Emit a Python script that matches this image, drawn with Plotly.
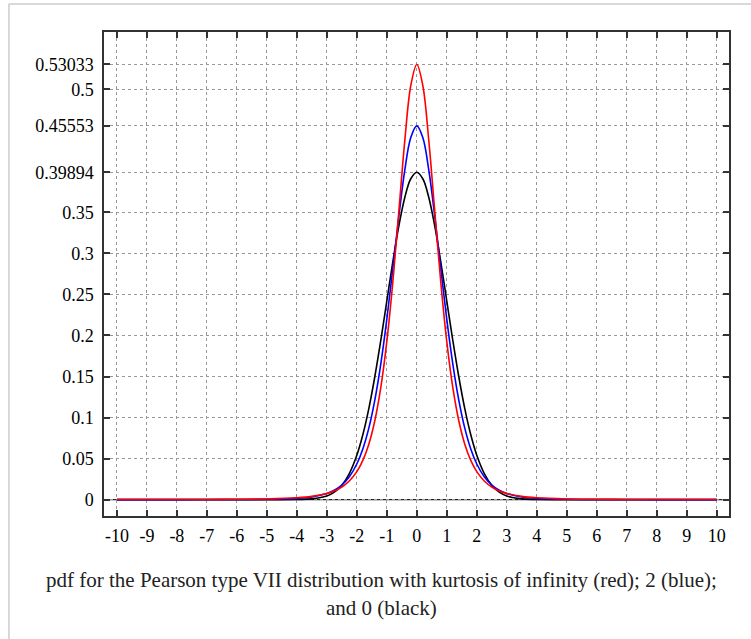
import plotly.graph_objects as go

# x positions (symmetric about 0)
x_vals = [-10, -8, -7, -6, -5, -4, -3.5, -3, -2.75, -2.5, -2.25, -2, -1.8, -1.6, -1.4, -1.2, -1,
          -0.8, -0.6, -0.4, -0.2, 0, 0.2, 0.4, 0.6, 0.8, 1, 1.2, 1.4, 1.6, 1.8, 2, 2.25, 2.5,
          2.75, 3, 3.5, 4, 5, 6, 7, 8, 10]

# kurtosis infinity (red)
red_y = [0.0000286, 0.0000848, 0.000161, 0.000337, 0.000792, 0.00218, 0.00391, 0.00748, 0.01061,
         0.01535, 0.02263, 0.03402, 0.04773, 0.06756, 0.09614, 0.13669, 0.19245, 0.26492,
         0.35062, 0.43751, 0.50471, 0.53033, 0.50471, 0.43751, 0.35062, 0.26492, 0.19245,
         0.13669, 0.09614, 0.06756, 0.04773, 0.03402, 0.02263, 0.01535, 0.01061, 0.00748,
         0.00391, 0.00218, 0.000792, 0.000337, 0.000161, 0.0000848, 0.0000286]

# kurtosis 2 (blue)
blue_y = [0.0000023, 0.0000126, 0.0000335, 0.000101, 0.000352, 0.00146, 0.00322, 0.00741, 0.01143,
          0.01777, 0.02777, 0.04339, 0.06176, 0.08716, 0.12133, 0.16552, 0.21968, 0.28137,
          0.34494, 0.40160, 0.44124, 0.45553, 0.44124, 0.40160, 0.34494, 0.28137, 0.21968,
          0.16552, 0.12133, 0.08716, 0.06176, 0.04339, 0.02777, 0.01777, 0.01143, 0.00741,
          0.00322, 0.00146, 0.000352, 0.000101, 0.0000335, 0.0000126, 0.0000023]

# kurtosis 0 (black, normal)
black_y = [0.0, 0.0, 0.0, 0.0, 0.0000015, 0.000134, 0.000873, 0.00443, 0.00909, 0.01753, 0.03174,
           0.05399, 0.07895, 0.11092, 0.14973, 0.19419, 0.24197, 0.28969, 0.33323, 0.36827,
           0.39104, 0.39894, 0.39104, 0.36827, 0.33323, 0.28969, 0.24197, 0.19419, 0.14973,
           0.11092, 0.07895, 0.05399, 0.03174, 0.01753, 0.00909, 0.00443, 0.000873, 0.000134,
           0.0000015, 0.0, 0.0, 0.0, 0.0]

x_ticks = list(range(-10, 11))
x_tick_text = [str(v) for v in x_ticks]
y_ticks = [0, 0.05, 0.1, 0.15, 0.2, 0.25, 0.3, 0.35, 0.39894, 0.45553, 0.5, 0.53033]
y_tick_text = ["0", "0.05", "0.1", "0.15", "0.2", "0.25", "0.3", "0.35", "0.39894", "0.45553", "0.5", "0.53033"]

caption_lines = ["pdf for the Pearson type VII distribution with kurtosis of infinity (red); 2 (blue);",
                 "and 0 (black)"]

W, H = 751, 639
L, R, T, B = 104, 728.7, 32, 515.7

fig = go.Figure()
for ys, col in [(black_y, "#000000"), (blue_y, "#0000ff"), (red_y, "#ff0000")]:
    fig.add_trace(go.Scatter(x=x_vals, y=ys, mode="lines", line=dict(color=col, width=1.6, shape="spline", smoothing=1.0),
                             showlegend=False, hoverinfo="skip"))

font_serif = "Liberation Serif, Times New Roman, serif"
axis_common = dict(showline=True, linecolor="#333333", linewidth=1.5, mirror="ticks", ticks="inside",
                   ticklen=6, tickwidth=1.5, tickcolor="#333333", showgrid=True, gridcolor="#999999",
                   griddash="dot", gridwidth=1, zeroline=False,
                   tickfont=dict(family=font_serif, size=18, color="#000000"))

fig.update_xaxes(range=[-10.43, 10.41], tickmode="array", tickvals=x_ticks, ticktext=x_tick_text,
                 ticklabelstandoff=3, **axis_common)
fig.update_yaxes(range=[-0.02, 0.5699], tickmode="array", tickvals=y_ticks, ticktext=y_tick_text,
                 ticklabelstandoff=5, **axis_common)

# thin zero baseline across the plot
fig.add_shape(type="line", xref="paper", yref="y", x0=0, x1=1, y0=0, y1=0,
              line=dict(color="#222222", width=1.2), layer="below")

pw, ph = R - L, B - T
def px_x(p):
    return (p - L) / pw
def px_y(p):
    return (B - p) / ph

# figure frame (left and top light grey lines)
fig.add_shape(type="line", xref="paper", yref="paper", x0=px_x(9), x1=px_x(9), y0=px_y(4), y1=px_y(640),
              line=dict(color="#cccccc", width=1.5))
fig.add_shape(type="line", xref="paper", yref="paper", x0=px_x(9), x1=px_x(752), y0=px_y(4), y1=px_y(4),
              line=dict(color="#cccccc", width=1.5))

for line_text, cy in zip(caption_lines, [580, 608]):
    fig.add_annotation(xref="paper", yref="paper", x=px_x(381), y=px_y(cy), text=line_text, showarrow=False,
                       font=dict(family=font_serif, size=21, color="#222222"), align="center",
                       xanchor="center", yanchor="middle")

fig.update_layout(width=W, height=H, margin=dict(l=L, r=W - R, t=T, b=H - B),
                  plot_bgcolor="white", paper_bgcolor="white")

fig.write_html("out.html")
